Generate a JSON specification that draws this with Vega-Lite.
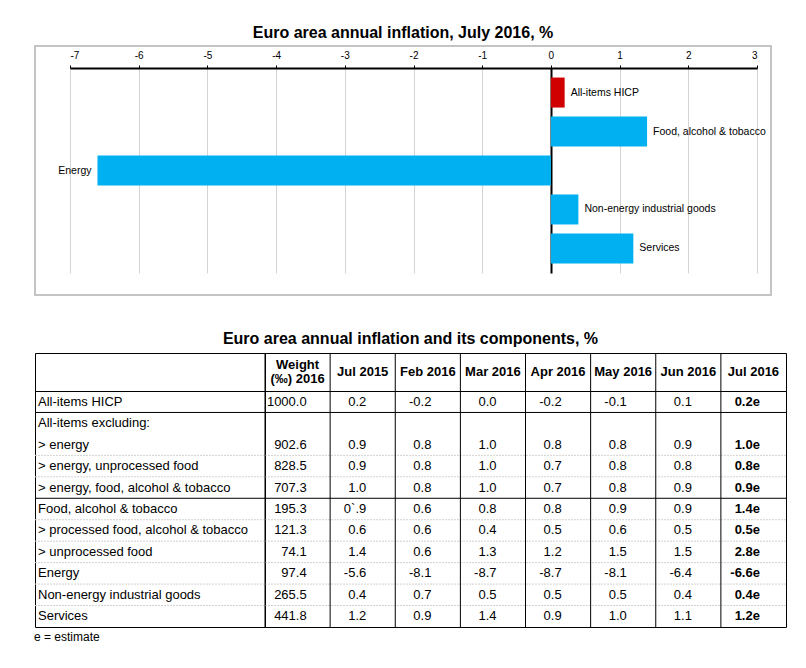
{
  "$schema": "https://vega.github.io/schema/vega-lite/v6.json",
  "background": "white",
  "padding": {"left": 34, "top": 24, "right": 0, "bottom": 0},
  "datasets": {
    "bars": [
      {"item": "All-items HICP", "value": 0.2},
      {"item": "Food, alcohol & tobacco", "value": 1.4},
      {"item": "Energy", "value": -6.6},
      {"item": "Non-energy industrial goods", "value": 0.4},
      {"item": "Services", "value": 1.2}
    ],
    "header": [
      {"col": "Weight", "label": "Weight\n(‰) 2016"},
      {"col": "Jul 2015", "label": "Jul 2015"},
      {"col": "Feb 2016", "label": "Feb 2016"},
      {"col": "Mar 2016", "label": "Mar 2016"},
      {"col": "Apr 2016", "label": "Apr 2016"},
      {"col": "May 2016", "label": "May 2016"},
      {"col": "Jun 2016", "label": "Jun 2016"},
      {"col": "Jul 2016", "label": "Jul 2016"}
    ],
    "table": [
      {"row": "All-items HICP", "Weight": "1000.0", "Jul 2015": "0.2", "Feb 2016": "-0.2", "Mar 2016": "0.0", "Apr 2016": "-0.2", "May 2016": "-0.1", "Jun 2016": "0.1", "Jul 2016": "0.2e"},
      {"row": "All-items excluding:"},
      {"row": "> energy", "Weight": "902.6", "Jul 2015": "0.9", "Feb 2016": "0.8", "Mar 2016": "1.0", "Apr 2016": "0.8", "May 2016": "0.8", "Jun 2016": "0.9", "Jul 2016": "1.0e"},
      {"row": "> energy, unprocessed food", "Weight": "828.5", "Jul 2015": "0.9", "Feb 2016": "0.8", "Mar 2016": "1.0", "Apr 2016": "0.7", "May 2016": "0.8", "Jun 2016": "0.8", "Jul 2016": "0.8e"},
      {"row": "> energy, food, alcohol & tobacco", "Weight": "707.3", "Jul 2015": "1.0", "Feb 2016": "0.8", "Mar 2016": "1.0", "Apr 2016": "0.7", "May 2016": "0.8", "Jun 2016": "0.9", "Jul 2016": "0.9e"},
      {"row": "Food, alcohol & tobacco", "Weight": "195.3", "Jul 2015": "0`.9", "Feb 2016": "0.6", "Mar 2016": "0.8", "Apr 2016": "0.8", "May 2016": "0.9", "Jun 2016": "0.9", "Jul 2016": "1.4e"},
      {"row": "> processed food, alcohol & tobacco", "Weight": "121.3", "Jul 2015": "0.6", "Feb 2016": "0.6", "Mar 2016": "0.4", "Apr 2016": "0.5", "May 2016": "0.6", "Jun 2016": "0.5", "Jul 2016": "0.5e"},
      {"row": "> unprocessed food", "Weight": "74.1", "Jul 2015": "1.4", "Feb 2016": "0.6", "Mar 2016": "1.3", "Apr 2016": "1.2", "May 2016": "1.5", "Jun 2016": "1.5", "Jul 2016": "2.8e"},
      {"row": "Energy", "Weight": "97.4", "Jul 2015": "-5.6", "Feb 2016": "-8.1", "Mar 2016": "-8.7", "Apr 2016": "-8.7", "May 2016": "-8.1", "Jun 2016": "-6.4", "Jul 2016": "-6.6e"},
      {"row": "Non-energy industrial goods", "Weight": "265.5", "Jul 2015": "0.4", "Feb 2016": "0.7", "Mar 2016": "0.5", "Apr 2016": "0.5", "May 2016": "0.5", "Jun 2016": "0.4", "Jul 2016": "0.4e"},
      {"row": "Services", "Weight": "441.8", "Jul 2015": "1.2", "Feb 2016": "0.9", "Mar 2016": "1.4", "Apr 2016": "0.9", "May 2016": "1.0", "Jun 2016": "1.1", "Jul 2016": "1.2e"}
    ],
    "solidLines": [
      {"row": "All-items excluding:"},
      {"row": "Food, alcohol & tobacco"}
    ],
    "dottedLines": [
      {"row": "> energy, unprocessed food"},
      {"row": "> energy, food, alcohol & tobacco"},
      {"row": "> processed food, alcohol & tobacco"},
      {"row": "> unprocessed food"},
      {"row": "Energy"},
      {"row": "Non-energy industrial goods"},
      {"row": "Services"}
    ]
  },
  "title": {"text": "e = estimate", "orient": "bottom", "anchor": "start", "font": "Liberation Sans", "fontSize": 12, "fontWeight": "normal", "color": "black", "offset": 4},
  "spacing": 35,
  "resolve": {"scale": {"x": "independent", "y": "independent", "color": "independent"}},
  "vconcat": [
    {
      "width": 736,
      "height": 249,
      "view": {"stroke": "#c4c4c4", "strokeWidth": 2},
      "title": {"text": "Euro area annual inflation, July 2016, %", "anchor": "middle", "font": "Liberation Sans", "fontSize": 16, "fontWeight": "bold", "color": "black", "offset": 5},
      "data": {"name": "bars"},
      "encoding": {
        "y": {"field": "item", "type": "nominal", "sort": null, "axis": null,
              "scale": {"domain": ["All-items HICP", "Food, alcohol & tobacco", "Energy", "Non-energy industrial goods", "Services"], "range": [22, 227], "paddingInner": 0.23, "paddingOuter": 0.245}},
        "x": {"field": "value", "type": "quantitative",
              "scale": {"domain": [-7, 3], "range": [35, 722], "nice": false, "zero": false},
              "axis": {"orient": "top", "offset": -22, "values": [-7, -6, -5, -4, -3, -2, -1, 0, 1, 2, 3], "title": null,
                       "labelExpr": "'' + datum.value",
                       "grid": true,
                       "gridColor": {"condition": {"test": "datum.value === 0", "value": "black"}, "value": "#d4d4d4"},
                       "gridWidth": {"condition": {"test": "datum.value === 0", "value": 2}, "value": 1},
                       "domainColor": "black", "domainWidth": 2, "tickColor": "black", "tickSize": 3, "tickWidth": 1,
                       "labelFont": "Liberation Sans", "labelFontSize": 10, "labelColor": "black", "labelPadding": 5}}
      },
      "layer": [
        {
          "mark": {"type": "bar"},
          "encoding": {
            "x2": {"datum": 0},
            "color": {"condition": {"test": "datum.item === 'All-items HICP'", "value": "#D00000"}, "value": "#00B0F0"}
          }
        },
        {
          "transform": [{"filter": "datum.value >= 0"}],
          "mark": {"type": "text", "align": "left", "baseline": "middle", "dx": 6, "font": "Liberation Sans", "fontSize": 10.5, "color": "black"},
          "encoding": {"text": {"field": "item"}}
        },
        {
          "transform": [{"filter": "datum.value < 0"}],
          "mark": {"type": "text", "align": "right", "baseline": "middle", "dx": -6, "font": "Liberation Sans", "fontSize": 10.5, "color": "black"},
          "encoding": {"text": {"field": "item"}}
        }
      ]
    },
    {
      "title": {"text": "Euro area annual inflation and its components, %", "anchor": "middle", "font": "Liberation Sans", "fontSize": 16, "fontWeight": "bold", "color": "black", "offset": 5},
      "columns": 2,
      "spacing": 0,
      "bounds": "flush",
      "resolve": {"scale": {"x": "independent", "y": "independent"}},
      "concat": [
        {
          "width": 230,
          "height": 38,
          "view": {"stroke": "black", "strokeWidth": 1},
          "data": {"values": [{"t": ""}]},
          "mark": {"type": "text"},
          "encoding": {"text": {"field": "t"}}
        },
        {
          "width": 521,
          "height": 38,
          "view": {"stroke": "black", "strokeWidth": 1},
          "data": {"name": "header"},
          "encoding": {
            "x": {"field": "col", "type": "nominal", "sort": null, "axis": null,
                  "scale": {"domain": ["Weight", "Jul 2015", "Feb 2016", "Mar 2016", "Apr 2016", "May 2016", "Jun 2016", "Jul 2016"], "paddingInner": 0, "paddingOuter": 0}}
          },
          "layer": [
            {
              "mark": {"type": "rule", "color": "black", "strokeWidth": 1},
              "encoding": {
                "x": {"field": "col", "type": "nominal", "sort": null, "bandPosition": 0, "axis": null}
              }
            },
            {
              "transform": [{"filter": "datum.col !== 'Weight'"}],
              "mark": {"type": "text", "font": "Liberation Sans", "fontSize": 13, "fontWeight": "bold", "baseline": "middle", "align": "center", "color": "black"},
              "encoding": {"text": {"field": "label"}}
            },
            {
              "transform": [{"filter": "datum.col === 'Weight'"}],
              "mark": {"type": "text", "font": "Liberation Sans", "fontSize": 13, "fontWeight": "bold", "lineBreak": "\n", "lineHeight": 14, "baseline": "middle", "align": "center", "dy": -7, "color": "black"},
              "encoding": {"text": {"field": "label"}}
            }
          ]
        },
        {
          "width": 230,
          "height": 236,
          "view": {"stroke": "black", "strokeWidth": 1},
          "encoding": {
            "y": {"field": "row", "type": "nominal", "sort": null, "axis": null,
                  "scale": {"domain": ["All-items HICP", "All-items excluding:", "> energy", "> energy, unprocessed food", "> energy, food, alcohol & tobacco", "Food, alcohol & tobacco", "> processed food, alcohol & tobacco", "> unprocessed food", "Energy", "Non-energy industrial goods", "Services"], "paddingInner": 0, "paddingOuter": 0}}
          },
          "layer": [
            {
              "data": {"name": "dottedLines"},
              "mark": {"type": "rule", "color": "#d2d2d2", "strokeWidth": 1, "strokeDash": [2, 1]},
              "encoding": {"y": {"field": "row", "type": "nominal", "sort": null, "bandPosition": 0, "axis": null}}
            },
            {
              "data": {"name": "solidLines"},
              "mark": {"type": "rule", "color": "black", "strokeWidth": 1},
              "encoding": {"y": {"field": "row", "type": "nominal", "sort": null, "bandPosition": 0, "axis": null}}
            },
            {
              "data": {"name": "table"},
              "mark": {"type": "text", "align": "left", "baseline": "middle", "dx": 3, "font": "Liberation Sans", "fontSize": 13, "color": "black"},
              "encoding": {
                "x": {"datum": 0, "type": "quantitative", "scale": {"domain": [0, 1]}, "axis": null},
                "text": {"field": "row"}
              }
            }
          ]
        },
        {
          "width": 521,
          "height": 236,
          "view": {"stroke": "black", "strokeWidth": 1},
          "encoding": {
            "y": {"field": "row", "type": "nominal", "sort": null, "axis": null,
                  "scale": {"domain": ["All-items HICP", "All-items excluding:", "> energy", "> energy, unprocessed food", "> energy, food, alcohol & tobacco", "Food, alcohol & tobacco", "> processed food, alcohol & tobacco", "> unprocessed food", "Energy", "Non-energy industrial goods", "Services"], "paddingInner": 0, "paddingOuter": 0}}
          },
          "layer": [
            {
              "data": {"name": "dottedLines"},
              "mark": {"type": "rule", "color": "#d2d2d2", "strokeWidth": 1, "strokeDash": [2, 1]},
              "encoding": {"y": {"field": "row", "type": "nominal", "sort": null, "bandPosition": 0, "axis": null}}
            },
            {
              "data": {"name": "solidLines"},
              "mark": {"type": "rule", "color": "black", "strokeWidth": 1},
              "encoding": {"y": {"field": "row", "type": "nominal", "sort": null, "bandPosition": 0, "axis": null}}
            },
            {
              "data": {"name": "header"},
              "mark": {"type": "rule", "color": "black", "strokeWidth": 1},
              "encoding": {
                "y": null,
                "x": {"field": "col", "type": "nominal", "sort": null, "bandPosition": 0, "axis": null,
                      "scale": {"domain": ["Weight", "Jul 2015", "Feb 2016", "Mar 2016", "Apr 2016", "May 2016", "Jun 2016", "Jul 2016"], "paddingInner": 0, "paddingOuter": 0}}
              }
            },
            {
              "data": {"name": "table"},
              "transform": [{"fold": ["Weight"], "as": ["col", "val"]}, {"filter": "isValid(datum.val)"}],
              "mark": {"type": "text", "align": "right", "baseline": "middle", "font": "Liberation Sans", "fontSize": 13, "color": "black"},
              "encoding": {
                "x": {"field": "col", "type": "nominal", "sort": null, "bandPosition": 0.64, "axis": null},
                "text": {"field": "val"}
              }
            },
            {
              "data": {"name": "table"},
              "transform": [{"fold": ["Jul 2015", "Feb 2016", "Mar 2016", "Apr 2016", "May 2016", "Jun 2016"], "as": ["col", "val"]}, {"filter": "isValid(datum.val)"}],
              "mark": {"type": "text", "align": "right", "baseline": "middle", "font": "Liberation Sans", "fontSize": 13, "color": "black"},
              "encoding": {
                "x": {"field": "col", "type": "nominal", "sort": null, "bandPosition": 0.555, "axis": null},
                "text": {"field": "val"}
              }
            },
            {
              "data": {"name": "table"},
              "transform": [{"fold": ["Jul 2016"], "as": ["col", "val"]}, {"filter": "isValid(datum.val)"}],
              "mark": {"type": "text", "align": "right", "baseline": "middle", "font": "Liberation Sans", "fontSize": 13, "fontWeight": "bold", "color": "black"},
              "encoding": {
                "x": {"field": "col", "type": "nominal", "sort": null, "bandPosition": 0.6, "axis": null},
                "text": {"field": "val"}
              }
            }
          ]
        }
      ]
    }
  ]
}
